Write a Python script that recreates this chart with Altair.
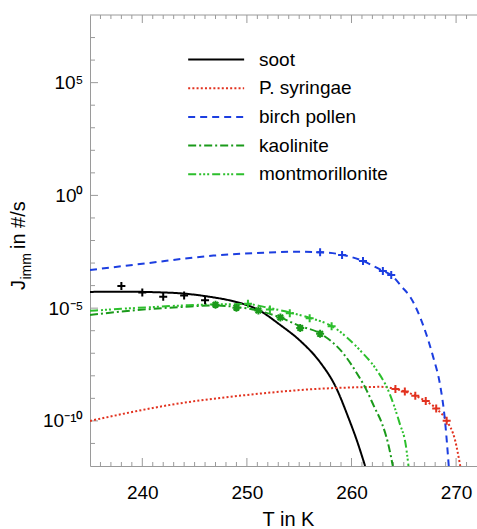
import altair as alt
import pandas as pd

# Series names, colours and dash patterns
names = ["soot", "P. syringae", "birch pollen", "kaolinite", "montmorillonite"]
colors = ["#000000", "#e2321f", "#1c3ee0", "#1a9a1a", "#2cbf2c"]
dashes = [[1, 0], [2, 2.2], [7, 5], [8, 3, 2, 3], [8, 3, 2, 2, 2, 2, 2, 3]]

# Fitted curves: temperature (K) and log10 of J_imm (#/s)
soot_T = [235, 238, 241.7, 243.6, 246.5, 248.4, 249.7, 250.9, 253.2, 255.1, 257.0, 258.5, 259.7, 260.5, 261.3]
soot_logJ = [-4.28, -4.27, -4.30, -4.34, -4.50, -4.66, -4.82, -5.03, -5.75, -6.45, -7.40, -8.50, -9.85, -10.85, -12.0]

syr_T = [235, 243.6, 250.0, 256.4, 261.4, 262.8, 264.2, 265.1, 266.1, 267.1, 268.1, 269.1, 269.9, 270.4]
syr_logJ = [-10.0, -9.22, -8.85, -8.59, -8.50, -8.49, -8.58, -8.70, -8.88, -9.12, -9.45, -9.99, -10.85, -12.0]

pollen_T = [235, 240.4, 246.8, 251.6, 254.5, 257.0, 259.2, 261.1, 263.0, 263.8, 264.8, 265.6, 266.9, 267.8, 268.5, 268.9, 269.3]
pollen_logJ = [-3.31, -3.01, -2.67, -2.54, -2.50, -2.52, -2.64, -2.91, -3.35, -3.53, -4.05, -4.49, -5.82, -7.15, -8.48, -9.81, -12.0]

kaol_T = [235, 238, 241, 244, 247, 249, 251, 253, 255, 257, 259.2, 260.4, 261.4, 262.2, 262.9, 263.5, 263.95]
kaol_logJ = [-5.30, -5.15, -5.03, -4.94, -4.88, -4.95, -5.10, -5.38, -5.78, -6.12, -7.0, -7.8, -8.6, -9.4, -10.1, -11.0, -12.0]

mont_T = [235, 238, 241, 244, 247, 250, 252, 254, 256, 258.2, 260.8, 262.4, 263.5, 264.6, 265.2, 265.45]
mont_logJ = [-5.12, -5.03, -4.95, -4.88, -4.83, -4.82, -4.98, -5.18, -5.43, -5.82, -6.86, -7.74, -8.63, -10.1, -11.1, -12.0]

# Measured points
soot_pts_T = [238.0, 240.0, 242.0, 244.0, 246.0]
soot_pts_logJ = [-4.02, -4.31, -4.49, -4.44, -4.65]
syr_pts_T = [264.2, 265.1, 266.1, 267.1, 268.1, 269.1]
syr_pts_logJ = [-8.58, -8.70, -8.88, -9.12, -9.45, -9.99]
pollen_pts_T = [257.0, 259.1, 261.1, 263.0, 263.8]
pollen_pts_logJ = [-2.52, -2.64, -2.91, -3.35, -3.53]
kaol_pts_T = [247.0, 249.0, 251.1, 253.2, 255.1, 257.0]
kaol_pts_logJ = [-4.85, -4.98, -5.10, -5.41, -5.88, -6.14]
mont_pts_T = [250.1, 252.2, 254.1, 256.0, 258.1]
mont_pts_logJ = [-4.80, -5.06, -5.23, -5.45, -5.80]

# Axis ticks
x_major = [240, 250, 260, 270]
x_minor = [t for t in range(236, 272) if t not in x_major]
y_major = [-10, -5, 0, 5]
y_minor = [d for d in range(-11, 8) if d not in y_major]

PLUS = "M-1,0L1,0M0,-1L0,1"
STAR = "M-1,0L1,0M0,-1L0,1M-0.7,-0.7L0.7,0.7M-0.7,0.7L0.7,-0.7"

W, H = 387, 451
GRAY = "#9a9a9a"
FONT = "Liberation Sans"


def curve(name, temps, logj):
    return pd.DataFrame({"name": name, "T": temps, "J": [10.0 ** v for v in logj]})


def pts(color, shape, temps, logj):
    return pd.DataFrame({"color": color, "shape": shape, "T": temps,
                         "J": [10.0 ** v for v in logj]})


lines_df = pd.concat([
    curve(names[0], soot_T, soot_logJ),
    curve(names[1], syr_T, syr_logJ),
    curve(names[2], pollen_T, pollen_logJ),
    curve(names[3], kaol_T, kaol_logJ),
    curve(names[4], mont_T, mont_logJ),
], ignore_index=True)

points_df = pd.concat([
    pts(colors[0], PLUS, soot_pts_T, soot_pts_logJ),
    pts(colors[1], PLUS, syr_pts_T, syr_pts_logJ),
    pts(colors[2], PLUS, pollen_pts_T, pollen_pts_logJ),
    pts(colors[3], STAR, kaol_pts_T, kaol_pts_logJ),
    pts(colors[4], PLUS, mont_pts_T, mont_pts_logJ),
], ignore_index=True)

x_scale = alt.Scale(domain=[235, 272], nice=False, zero=False)
y_scale = alt.Scale(type="log", domain=[1e-12, 1e8], nice=False)

x_axis = alt.Axis(values=x_major, ticks=False, tickSize=0, grid=False, domainColor=GRAY,
                  labelFontSize=19, labelFont=FONT, labelColor="black", labelPadding=17,
                  title="T in K", titleFontSize=20, titleFont=FONT, titleFontWeight="normal",
                  titleColor="black", titleY=59, titleBaseline="alphabetic", titleX=198)
y_axis = alt.Axis(values=[10.0 ** d for d in y_major], ticks=False, tickSize=0, grid=False,
                  domainColor=GRAY, labelFontSize=19, labelFont=FONT, labelColor="black",
                  labelPadding=7, title=None,
                  labelExpr="datum.value >= 1e4 ? '10\u2075' : datum.value >= 0.1 ? '10\u2070'"
                            " : datum.value >= 1e-6 ? '10\u207b\u2075' : '10\u207b\u00b9\u2070'")

legend = alt.Legend(title=None, orient="none", legendX=97, legendY=34, padding=0,
                    symbolType="M-1,0L5,0", symbolSize=348, symbolStrokeWidth=2,
                    labelFontSize=19, labelFont=FONT, labelColor="black", labelOffset=51,
                    rowPadding=7.7)

lines = alt.Chart(lines_df).mark_line(strokeWidth=2, interpolate="monotone", clip=True).encode(
    x=alt.X("T:Q", scale=x_scale, axis=x_axis),
    y=alt.Y("J:Q", scale=y_scale, axis=y_axis),
    color=alt.Color("name:N", scale=alt.Scale(domain=names, range=colors), legend=legend),
    strokeDash=alt.StrokeDash("name:N", scale=alt.Scale(domain=names, range=dashes), legend=legend),
)

points = alt.Chart(points_df).mark_point(filled=False, strokeWidth=2, size=64, opacity=1, clip=True).encode(
    x=alt.X("T:Q", scale=x_scale),
    y=alt.Y("J:Q", scale=y_scale),
    stroke=alt.Stroke("color:N", scale=None),
    shape=alt.Shape("shape:N", scale=None),
)


def x_ticks(vals, y0, y1):
    return alt.Chart(pd.DataFrame({"T": vals})).mark_rule(color=GRAY, strokeWidth=1).encode(
        x=alt.X("T:Q", scale=x_scale), y=alt.value(y0), y2=alt.value(y1))


def y_ticks(vals, length):
    return alt.Chart(pd.DataFrame({"J": [10.0 ** d for d in vals]})).mark_rule(color=GRAY, strokeWidth=1).encode(
        y=alt.Y("J:Q", scale=y_scale), x=alt.value(0), x2=alt.value(length))


one = alt.Data(values=[{}])
top_line = alt.Chart(one).mark_rule(color=GRAY, strokeWidth=1).encode(
    x=alt.value(0), x2=alt.value(W), y=alt.value(0))


def title_text(txt, x, y, size):
    return alt.Chart(one).mark_text(text=txt, angle=270, align="left", baseline="alphabetic",
                                    fontSize=size, font=FONT, color="black").encode(
        x=alt.value(x), y=alt.value(y))


chart = alt.layer(
    x_ticks(x_minor, H, H - 4), x_ticks(x_major, H, H - 8),
    x_ticks(x_minor, 0, 4), x_ticks(x_major, 0, 8),
    y_ticks(y_minor, 5), y_ticks(y_major, 8),
    top_line,
    lines, points,
    title_text("J", -65, 275, 20),
    title_text("imm", -59, 264.5, 14),
    title_text("in #/s", -65, 234, 20),
).properties(
    width=W, height=H,
    autosize=alt.AutoSizeParams(type="none"),
    padding={"left": 90, "top": 15, "right": 0, "bottom": 63},
).configure_view(stroke=None)

chart.save("out.html", embed_options={"renderer": "svg", "actions": False})
